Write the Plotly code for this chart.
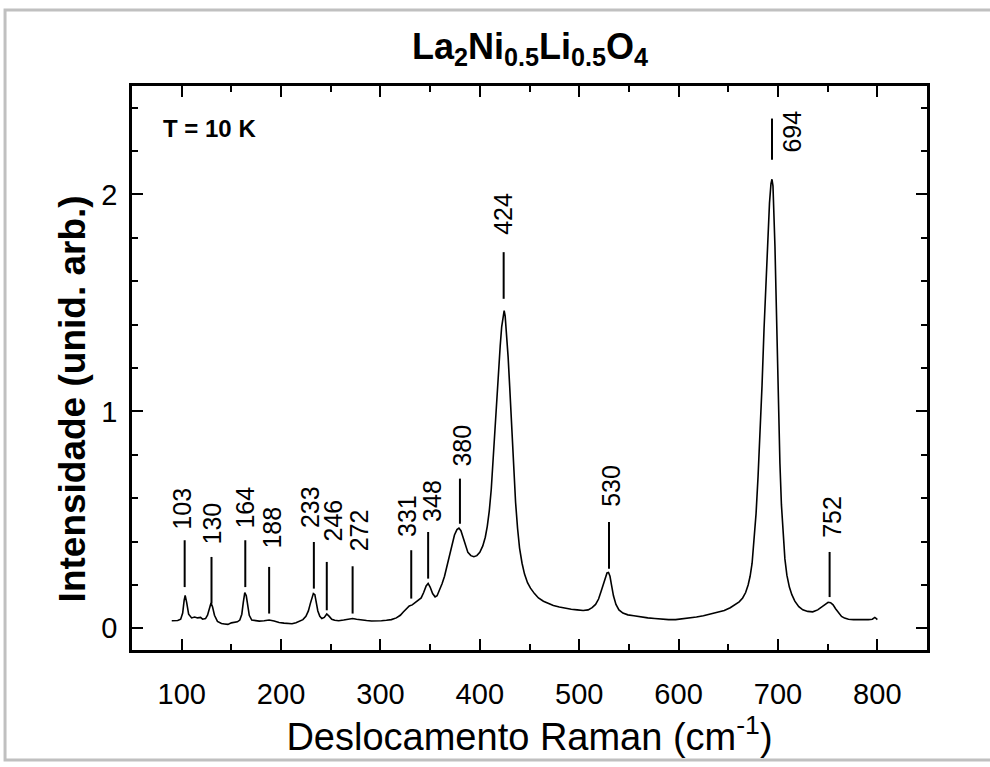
import plotly.graph_objects as go

# ---- spectrum ----
raman_shift = [
    90, 93, 96, 99, 101, 102.5, 103.5, 105, 107, 110, 113, 116, 119, 121, 124, 126, 128, 129.5, 131, 133,
    136, 140, 143, 146.5, 150, 153, 156, 158.5, 160.5, 162, 163.5, 165, 166.5, 168, 170.5, 174, 178, 183, 188, 193,
    198, 203, 207, 211, 215, 219, 222, 225, 227.5, 229.5, 231, 232.5, 234, 235.5, 237, 239, 241, 243.5, 246, 248.5,
    251, 254, 258, 263, 268, 272, 276, 281, 286, 291, 296, 301, 306, 311, 316, 320, 323, 326, 329, 332,
    335, 338, 341, 343.5, 346, 348, 350, 352.5, 355, 357, 359.5, 362, 364.5, 367, 369.5, 372, 374.5, 377, 379, 381,
    383, 385.5, 388, 391, 394, 397, 400, 403, 405.5, 407.5, 409.5, 411.5, 413, 414.5, 416, 417.5, 419, 420.5, 422, 423.5,
    424.5, 425.5, 427, 428.5, 430, 431.5, 433, 434.5, 436, 438, 440, 442.5, 445, 448, 451, 455, 459, 464, 469, 474,
    480, 486, 492, 498, 504, 509, 513, 516.5, 519.5, 522, 524.5, 526.5, 528, 529.5, 531, 532.5, 534.5, 537, 540, 544,
    549, 555, 562, 569, 576, 583, 590, 597, 604, 611, 618, 625, 632, 639, 646, 652, 657, 661, 664.5, 667.5,
    670, 672, 674, 676, 678, 680, 682, 684, 686, 688, 690, 691.5, 693, 694, 695, 696, 697, 698, 699, 700,
    701, 702, 703.5, 705, 707, 709, 711.5, 714, 717, 721, 725, 730, 735, 740, 744, 747.5, 750.5, 753, 755.5, 758,
    761, 764, 767, 771, 776, 781, 786, 791, 795, 797.5, 799, 800,
]
intensity = [
    0.035, 0.037, 0.036, 0.042, 0.07, 0.13, 0.152, 0.12, 0.065, 0.048, 0.052, 0.048, 0.05, 0.042, 0.045, 0.06, 0.10, 0.117, 0.10, 0.06,
    0.032, 0.022, 0.020, 0.018, 0.025, 0.028, 0.030, 0.038, 0.065, 0.12, 0.165, 0.15, 0.10, 0.06, 0.038, 0.034, 0.033, 0.035, 0.038, 0.034,
    0.027, 0.024, 0.022, 0.021, 0.026, 0.032, 0.040, 0.055, 0.08, 0.115, 0.14, 0.16, 0.155, 0.12, 0.08, 0.055, 0.045, 0.05, 0.066, 0.055,
    0.042, 0.037, 0.035, 0.038, 0.042, 0.045, 0.042, 0.038, 0.036, 0.034, 0.033, 0.035, 0.037, 0.040, 0.048, 0.060, 0.075, 0.09, 0.103, 0.108,
    0.118, 0.128, 0.14, 0.165, 0.195, 0.207, 0.19, 0.16, 0.145, 0.15, 0.175, 0.205, 0.24, 0.29, 0.34, 0.39, 0.43, 0.455, 0.462, 0.45,
    0.42, 0.38, 0.35, 0.335, 0.33, 0.335, 0.35, 0.38, 0.42, 0.47, 0.54, 0.64, 0.76, 0.88, 1.0, 1.1, 1.2, 1.3, 1.39, 1.45,
    1.465, 1.44, 1.36, 1.25, 1.12, 0.98, 0.84, 0.70, 0.58, 0.46, 0.37, 0.30, 0.25, 0.21, 0.185, 0.16, 0.14, 0.125, 0.115, 0.105,
    0.098, 0.092, 0.088, 0.085, 0.082, 0.085, 0.095, 0.11, 0.135, 0.17, 0.21, 0.24, 0.255, 0.257, 0.24, 0.20, 0.15, 0.11, 0.085, 0.07,
    0.062, 0.058, 0.052, 0.048, 0.045, 0.042, 0.040, 0.040, 0.043, 0.048, 0.052, 0.058, 0.065, 0.072, 0.082, 0.095, 0.108, 0.122, 0.14, 0.165,
    0.20, 0.24, 0.30, 0.40, 0.53, 0.70, 0.90, 1.12, 1.38, 1.62, 1.84, 1.96, 2.05, 2.07, 2.04, 1.92, 1.76, 1.56, 1.34, 1.12,
    0.92, 0.76, 0.57, 0.44, 0.32, 0.245, 0.19, 0.155, 0.125, 0.10, 0.085, 0.078, 0.076, 0.085, 0.10, 0.113, 0.12, 0.118, 0.108, 0.09,
    0.07, 0.055, 0.047, 0.042, 0.040, 0.039, 0.038, 0.040, 0.042, 0.050, 0.045, 0.040,
]
assert len(raman_shift) == len(intensity)

# ---- peak assignments ----
peak_positions = [103, 130, 164, 188, 233, 246, 272, 331, 348, 380, 424, 530, 694, 752]
peak_labels = [str(p) for p in peak_positions]

# marker-line extents, label anchors (data units) and small horizontal label nudges (px)
marker_low = [0.19, 0.114, 0.19, 0.068, 0.183, 0.083, 0.068, 0.137, 0.229, 0.482, 1.519, 0.275, 2.16, 0.144]
marker_high = [0.406, 0.329, 0.406, 0.283, 0.398, 0.306, 0.286, 0.36, 0.444, 0.69, 1.734, 0.49, 2.35, 0.352]
label_base = [0.444, 0.375, 0.452, 0.359, 0.452, 0.39, 0.344, 0.413, 0.482, 0.736, 1.803, 0.551, 2.29, 0.406]
label_nudge = [-3, 0, 0, 3, -4, 6, 6, -5, 4, 2, 0, 2, 4, 3]

FONT = "Liberation Sans, Arial, Helvetica, sans-serif"

fig = go.Figure()
fig.add_trace(go.Scatter(
    x=raman_shift, y=intensity, mode="lines",
    line=dict(color="black", width=1.6), showlegend=False, hoverinfo="x+y",
))

shapes = []
annotations = []
for p, lab, lo, hi, base, dx in zip(peak_positions, peak_labels, marker_low, marker_high, label_base, label_nudge):
    shapes.append(dict(type="line", xref="x", yref="y", x0=p, x1=p, y0=lo, y1=hi,
                       line=dict(color="black", width=2)))
    if p == 694:
        annotations.append(dict(x=p, y=base, xref="x", yref="y", text=lab, textangle=-90,
                                showarrow=False, xanchor="left", yanchor="middle", xshift=dx,
                                font=dict(family=FONT, size=25, color="black")))
    else:
        annotations.append(dict(x=p, y=base, xref="x", yref="y", text=lab, textangle=-90,
                                showarrow=False, xanchor="center", yanchor="bottom", xshift=dx,
                                font=dict(family=FONT, size=25, color="black")))

annotations.append(dict(x=0.036, y=0.925, xref="paper", yref="paper", text="<b>T = 10 K</b>",
                        showarrow=False, xanchor="left", yanchor="middle",
                        font=dict(family=FONT, size=24, color="black")))

# y-axis title (placed as in the reference, slightly below the axis centre)
annotations.append(dict(x=-0.075, y=0.445, xref="paper", yref="paper",
                        text="<b>Intensidade (unid. arb.)</b>", textangle=-90,
                        showarrow=False, xanchor="center", yanchor="middle",
                        font=dict(family=FONT, size=37, color="black")))

# light grey frame around the whole picture
shapes.append(dict(type="rect", xref="paper", yref="paper", x0=-0.1597, x1=1.1, y0=-0.195, y1=1.1348,
                   line=dict(color="#c0c0c0", width=3), fillcolor="rgba(0,0,0,0)", layer="below"))

axis_common = dict(
    showline=True, linecolor="black", linewidth=2.5, mirror="allticks",
    ticks="inside", ticklen=11, tickwidth=2, tickcolor="black",
    showgrid=False, zeroline=False,
    tickfont=dict(family=FONT, size=29, color="black"),
)

fig.update_layout(
    width=990, height=767,
    margin=dict(l=132, r=63, t=86, b=117),
    paper_bgcolor="white", plot_bgcolor="white",
    title=dict(text="<b>La<sub>2</sub>Ni<sub>0.5</sub>Li<sub>0.5</sub>O<sub>4</sub></b>",
               x=0.5006, xref="paper", xanchor="center", y=0.94, yref="container", yanchor="middle",
               font=dict(family=FONT, size=36, color="black")),
    xaxis=dict(range=[50, 850], dtick=100, tick0=0,
               minor=dict(dtick=50, ticks="inside", ticklen=6, tickwidth=2, tickcolor="black"),
               ticklabelstandoff=16,
               title=dict(text="Deslocamento Raman (cm<sup>-1</sup>)", standoff=10,
                          font=dict(family=FONT, size=38, color="black")),
               **axis_common),
    yaxis=dict(range=[-0.1, 2.5], dtick=1, tick0=0,
               minor=dict(dtick=0.2, ticks="inside", ticklen=6, tickwidth=2, tickcolor="black"),
               ticklabelstandoff=6,
               **axis_common),
    shapes=shapes,
    annotations=annotations,
)

fig.write_html("out.html")
